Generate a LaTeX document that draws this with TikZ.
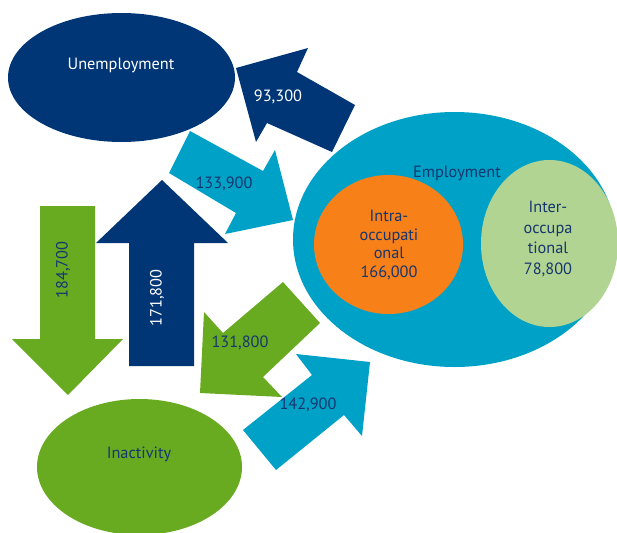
\documentclass[tikz,border=0pt]{standalone}
\usepackage{fontspec}
\setmainfont{PT Sans}
\usetikzlibrary{shapes.geometric}
\definecolor{navy}{RGB}{0,54,118}
\definecolor{lblue}{RGB}{0,161,198}
\definecolor{lgreen}{RGB}{104,171,33}
\definecolor{orangec}{RGB}{248,128,24}
\definecolor{pgreen}{RGB}{178,212,146}
\definecolor{txtnavy}{RGB}{22,54,110}
\tikzset{
  blob/.style={ellipse, inner sep=0pt, draw=none},
  lbl/.style={font=\fontsize{16.3}{19}\selectfont, inner sep=0pt, align=center},
}
\begin{document}
\begin{tikzpicture}[x=1pt,y=-1pt]
\useasboundingbox (0,0) rectangle (617,532);
% arrows
\fill[navy] (236,68) -- (308,48) -- (297,72) -- (355,105) -- (332,152) -- (267,123) -- (256,142) -- cycle;
\fill[lblue] (190,131) -- (263,171) -- (275,150) -- (293,220) -- (225,234) -- (236,213) -- (169,173) -- cycle;
\fill[lgreen] (40,206) -- (95,206) -- (95,339) -- (123,339) -- (68,395) -- (12,339) -- (40,339) -- cycle;
\fill[navy] (162,180) -- (228,243) -- (194,243) -- (194,366) -- (129,366) -- (129,243) -- (96,243) -- cycle;
\fill[lgreen] (200,393) -- (204,312) -- (223,333) -- (283,282) -- (320,323) -- (263,377) -- (282,397) -- cycle;
\fill[lblue] (243,430) -- (312,375) -- (296,354) -- (370,362) -- (362,436) -- (344,415) -- (276,470) -- cycle;
% ellipses
\node[blob, fill=navy, minimum width=227, minimum height=129] (unemp) at (121.5,77.5) {};
\node[blob, fill=lgreen, minimum width=205, minimum height=136] (inact) at (139.5,467) {};
\node[blob, fill=lblue, minimum width=323, minimum height=255] (emp) at (454.5,239.5) {};
\node[blob, fill=orangec, minimum width=149, minimum height=139] (intra) at (388.5,244.5) {};
\node[blob, fill=pgreen, minimum width=137, minimum height=167] (inter) at (549.5,243.5) {};
% labels
\node[lbl, text=white] (tunemp) at (121,65) {Unemployment};
\node[lbl, text=txtnavy] (tinact) at (139,454) {Inactivity};
\node[lbl, text=txtnavy] (temp) at (457,173) {Employment};
\node[lbl, text=txtnavy, font=\fontsize{16.3}{18.7}\selectfont] (tintra) at (389,245) {Intra-\\occupati\\onal\\166,000};
\node[lbl, text=txtnavy, font=\fontsize{16.3}{20.5}\selectfont] (tinter) at (548,239) {Inter-\\occupa\\tional\\78,800};
\node[lbl, text=white] (t1) at (278,97) {93,300};
\node[lbl, text=txtnavy] (t2) at (224,184) {133,900};
\node[lbl, text=txtnavy, rotate=90] (t3) at (63,270) {184,700};
\node[lbl, text=white, rotate=90] (t4) at (157,298) {171,800};
\node[lbl, text=txtnavy] (t5) at (240,343) {131,800};
\node[lbl, text=txtnavy] (t6) at (308,405) {142,900};
\end{tikzpicture}
\end{document}
